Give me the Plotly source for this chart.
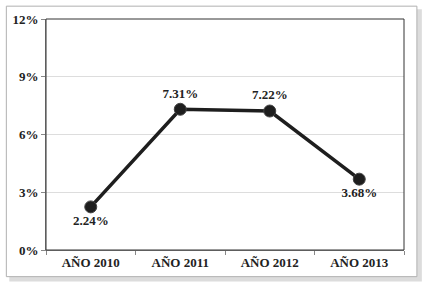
import plotly.graph_objects as go

categories = ["AÑO 2010", "AÑO 2011", "AÑO 2012", "AÑO 2013"]
values = [2.24, 7.31, 7.22, 3.68]
labels = ["2.24%", "7.31%", "7.22%", "3.68%"]
label_pos = ["bottom center", "top center", "top center", "bottom center"]
y_ticks = [0, 3, 6, 9, 12]
y_tick_labels = ["0%", "3%", "6%", "9%", "12%"]

W, H = 427, 288
L, R, T, B = 43, 23, 16, 38
pw, ph = W - L - R, H - T - B

def px(x):
    return (x - L) / pw

def py(y):
    return (H - B - y) / ph

FS = 13
font = dict(family="Liberation Serif", size=FS, color="#222222")

fig = go.Figure()
fig.add_trace(go.Scatter(
    x=categories, y=values, mode="lines+markers+text",
    line=dict(color="#1e1e1e", width=3.5),
    marker=dict(size=12, color="#1e1e1e", line=dict(color="#444444", width=1)),
    text=["<b>%s</b>" % t for t in labels], textposition=label_pos,
    textfont=font,
    cliponaxis=False, showlegend=False, hoverinfo="skip",
))

shapes = [
    # shadow
    dict(type="rect", xref="paper", yref="paper", x0=px(6), x1=px(422), y0=py(282), y1=py(6),
         line=dict(width=0), fillcolor="#dcdcdc", layer="below"),
    # frame
    dict(type="rect", xref="paper", yref="paper", x0=px(3), x1=px(417), y0=py(277), y1=py(3),
         line=dict(color="#b0b0b0", width=1), fillcolor="white", layer="below"),
    # plot border
    dict(type="rect", xref="paper", yref="paper", x0=0, x1=1, y0=0, y1=1,
         line=dict(color="#333333", width=1), layer="above"),
]

fig.update_layout(
    width=W, height=H, margin=dict(l=L, r=R, t=T, b=B),
    paper_bgcolor="white", plot_bgcolor="rgba(0,0,0,0)",
    shapes=shapes, font=font,
    xaxis=dict(type="category", showgrid=False, showline=True, linecolor="#888888", linewidth=1,
               ticks="outside", tickson="boundaries", ticklen=4, tickcolor="#888888",
               tickfont=font,
               tickvals=categories, ticktext=["<b>%s</b>" % c for c in categories],
               range=[-0.5, 3.5], zeroline=False),
    yaxis=dict(range=[0, 12], tickvals=y_ticks, ticktext=["<b>%s</b>" % t for t in y_tick_labels],
               showgrid=True, gridcolor="#dddddd", gridwidth=1,
               showline=True, linecolor="#888888", linewidth=1,
               ticks="outside", ticklen=4, tickcolor="#888888",
               tickfont=font,
               zeroline=False),
)

fig.write_html("out.html", config={"displayModeBar": False},
               post_script="document.body.style.margin='0';document.body.style.padding='0';")
